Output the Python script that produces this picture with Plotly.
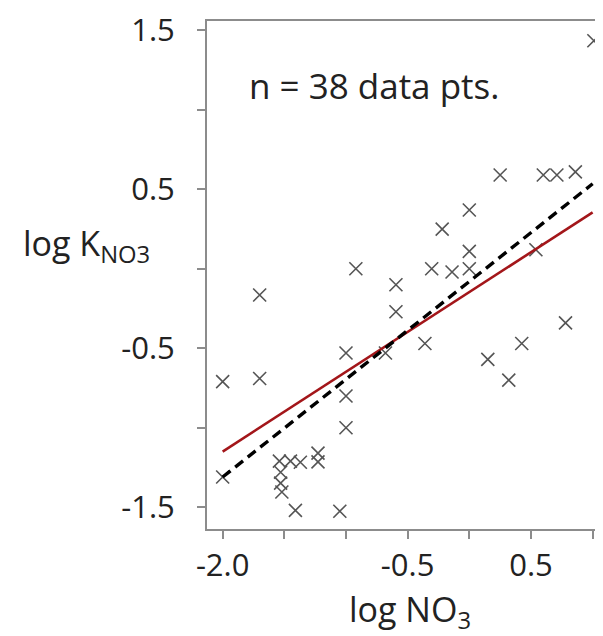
import plotly.graph_objects as go

# Observed data points (log NO3, log K_NO3)
x_vals = [1.01, 0.25, 0.60, 0.71, 0.86, 0.00, -0.22, 0.00, 0.54, -0.92,
          -0.305, -0.14, 0.00, -1.70, -0.595, -0.595, 0.78, -0.36, 0.425, -1.00,
          -0.68, 0.15, 0.32, -2.00, -1.70, -1.00, -1.00, -2.00, -1.41, -1.05,
          -1.54, -1.45, -1.37, -1.53, -1.53, -1.52, -1.227, -1.227]
y_vals = [1.435, 0.59, 0.59, 0.59, 0.61, 0.37, 0.25, 0.11, 0.12, 0.00,
          0.00, -0.02, 0.00, -0.165, -0.10, -0.27, -0.34, -0.47, -0.47, -0.53,
          -0.53, -0.57, -0.70, -0.71, -0.69, -0.80, -1.00, -1.31, -1.52, -1.525,
          -1.21, -1.21, -1.217, -1.28, -1.348, -1.404, -1.16, -1.215]

# Fit lines
fit_x = [-2.0, 1.0]
fit_red_y = [-1.15, 0.355]
fit_dash_y = [-1.31, 0.535]

x_tickvals = [-2.0, -0.5, 0.5]
x_ticktext = ["-2.0", "-0.5", "0.5"]
x_minorvals = [-2.0, -1.5, -1.0, -0.5, 0.0, 0.5, 1.0]
y_tickvals = [1.5, 0.5, -0.5, -1.5]
y_ticktext = ["1.5", "0.5", "-0.5", "-1.5"]
y_minorvals = [1.5, 1.0, 0.5, 0.0, -0.5, -1.0, -1.5]

FONT = "Open Sans"
TXT = "#222222"
AX = "#8c8c8c"

# page body adds an 8px margin; the figure is sized to fill the 603x636 window
W, H = 595, 628
L, T, B = 199, 7, 107
PW = W - L
PH = H - T - B


def px_x(px):
    return (px - 8 - L) / PW


def px_y(py):
    return (H - B - (py - 8)) / PH


fig = go.Figure()
fig.add_trace(go.Scatter(
    x=x_vals, y=y_vals, mode="markers",
    marker=dict(symbol="x-thin", size=13, line=dict(color="#555555", width=1.6)),
    showlegend=False, hoverinfo="skip"))
fig.add_trace(go.Scatter(
    x=fit_x, y=fit_red_y, mode="lines",
    line=dict(color="#a3161a", width=2.6), showlegend=False))
fig.add_trace(go.Scatter(
    x=fit_x, y=fit_dash_y, mode="lines",
    line=dict(color="#000000", width=3.4, dash="10px,6px"), showlegend=False))

minor_style = dict(ticks="outside", ticklen=8, tickwidth=2, tickcolor=AX, showgrid=False)

fig.update_layout(
    width=W, height=H,
    margin=dict(l=L, r=0, t=T, b=B),
    paper_bgcolor="white", plot_bgcolor="white",
    font=dict(family=FONT, color=TXT),
    xaxis=dict(range=[-2.127, 1.084], tickmode="array", tickvals=x_tickvals, ticktext=x_ticktext,
               showline=True, linecolor=AX, linewidth=2, mirror=True,
               ticks="outside", ticklen=8, tickwidth=2, tickcolor=AX,
               minor=dict(tickmode="array", tickvals=x_minorvals, **minor_style),
               showgrid=False, zeroline=False, ticklabeloverflow="allow",
               tickfont=dict(size=31, family=FONT, color=TXT), ticklabelstandoff=0),
    yaxis=dict(range=[-1.637, 1.559], tickmode="array", tickvals=y_tickvals, ticktext=y_ticktext,
               showline=True, linecolor=AX, linewidth=2, mirror=False,
               ticks="outside", ticklen=8, tickwidth=2, tickcolor=AX,
               minor=dict(tickmode="array", tickvals=y_minorvals, **minor_style),
               showgrid=False, zeroline=False, ticklabeloverflow="allow",
               tickfont=dict(size=31, family=FONT, color=TXT), ticklabelstandoff=16),
    annotations=[
        dict(text="n = 38 data pts.", xref="paper", yref="paper",
             x=px_x(247), y=px_y(80), xanchor="left", yanchor="middle",
             showarrow=False, font=dict(size=35, family=FONT, color=TXT)),
        dict(text="log NO<sub>3</sub>", xref="paper", yref="paper",
             x=px_x(410), y=px_y(612), xanchor="center", yanchor="middle",
             showarrow=False, font=dict(size=34, family=FONT, color=TXT)),
        dict(text="log K<sub>NO3</sub>", xref="paper", yref="paper",
             x=px_x(152), y=px_y(242), xanchor="right", yanchor="middle",
             showarrow=False, font=dict(size=34, family=FONT, color=TXT)),
    ],
)

fig.write_html("out.html")
